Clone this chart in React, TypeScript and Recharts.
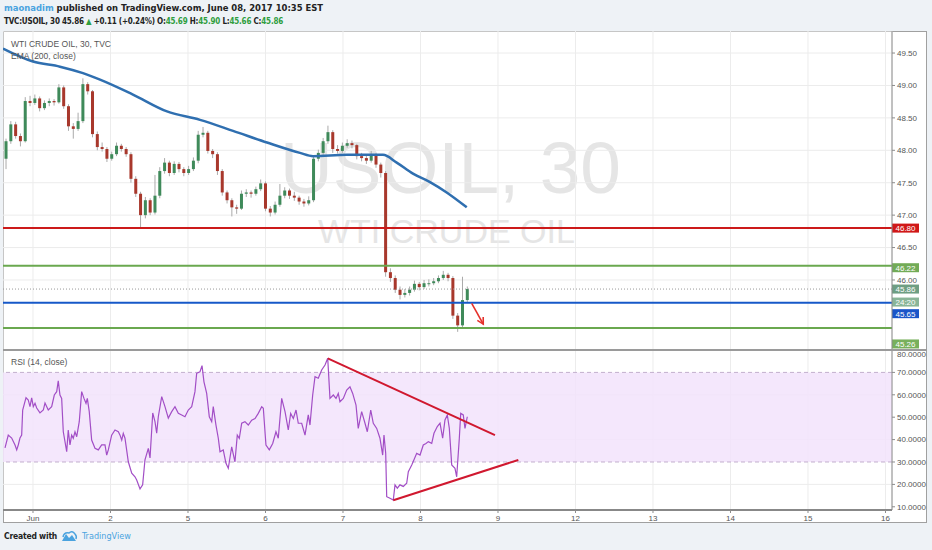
import React from "react";
import {
  ComposedChart, Bar, Line, XAxis, YAxis, CartesianGrid, ReferenceLine, ReferenceArea,
} from "recharts";

// 30 min candles, one row = [open, high, low, close]
const T0 = -0.348;
const STEP = 0.062;
const candleRows: [number, number, number, number][] = [
  [47.87, 48.18, 47.71, 48.14], [48.14, 48.45, 48.10, 48.40], [48.40, 48.44, 48.18, 48.22], [48.22, 48.26, 48.06, 48.14],
  [48.14, 48.82, 48.12, 48.76], [48.76, 48.84, 48.68, 48.73], [48.73, 48.86, 48.70, 48.80], [48.80, 48.83, 48.60, 48.65],
  [48.65, 48.77, 48.62, 48.73], [48.73, 48.80, 48.68, 48.76], [48.76, 48.79, 48.69, 48.74], [48.74, 49.02, 48.72, 48.97],
  [48.97, 49.00, 48.64, 48.68], [48.68, 48.71, 48.30, 48.37], [48.37, 48.42, 48.18, 48.33], [48.33, 48.58, 48.30, 48.45],
  [48.45, 49.11, 48.42, 49.02], [49.02, 49.05, 48.86, 48.91], [48.91, 48.93, 48.20, 48.25], [48.25, 48.29, 48.00, 48.05],
  [48.05, 48.12, 47.98, 48.02], [48.02, 48.05, 47.82, 47.87], [47.87, 47.98, 47.84, 47.94], [47.94, 48.12, 47.91, 48.07],
  [48.07, 48.10, 47.98, 48.02], [48.02, 48.05, 47.90, 47.94], [47.94, 47.97, 47.50, 47.56], [47.56, 47.60, 47.28, 47.33],
  [47.33, 47.36, 46.81, 47.00], [47.00, 47.28, 46.95, 47.23], [47.23, 47.26, 47.00, 47.04], [47.04, 47.62, 47.01, 47.30],
  [47.30, 47.74, 47.26, 47.68], [47.68, 47.88, 47.64, 47.81], [47.81, 47.84, 47.60, 47.65], [47.65, 47.83, 47.62, 47.79],
  [47.79, 47.82, 47.66, 47.71], [47.71, 47.74, 47.60, 47.65], [47.65, 47.76, 47.62, 47.71], [47.71, 47.89, 47.68, 47.84],
  [47.84, 48.30, 47.80, 48.24], [48.24, 48.36, 48.20, 48.27], [48.27, 48.30, 47.95, 47.99], [47.99, 48.02, 47.88, 47.94],
  [47.94, 47.97, 47.62, 47.68], [47.68, 47.71, 47.30, 47.35], [47.35, 47.38, 47.18, 47.23], [47.23, 47.26, 46.98, 47.12],
  [47.12, 47.16, 47.02, 47.10], [47.10, 47.38, 47.08, 47.33], [47.33, 47.40, 47.28, 47.35], [47.35, 47.38, 47.27, 47.33],
  [47.33, 47.44, 47.30, 47.40], [47.40, 47.55, 47.37, 47.49], [47.49, 47.52, 47.06, 47.10], [47.10, 47.14, 46.98, 47.04],
  [47.04, 47.21, 47.01, 47.16], [47.16, 47.48, 47.13, 47.30], [47.30, 47.43, 47.26, 47.38], [47.38, 47.41, 47.25, 47.30],
  [47.30, 47.36, 47.22, 47.27], [47.27, 47.30, 47.16, 47.21], [47.21, 47.25, 47.13, 47.18], [47.18, 47.29, 47.15, 47.23],
  [47.23, 47.92, 47.20, 47.87], [47.87, 48.01, 47.83, 47.96], [47.96, 48.19, 47.93, 48.14], [48.14, 48.38, 48.10, 48.28],
  [48.28, 48.31, 47.96, 48.02], [48.02, 48.08, 47.95, 47.99], [47.99, 48.12, 47.96, 48.07], [48.07, 48.17, 48.04, 48.11],
  [48.11, 48.15, 48.03, 48.08], [48.08, 48.10, 47.86, 47.91], [47.91, 47.96, 47.83, 47.88], [47.88, 47.92, 47.79, 47.84],
  [47.84, 47.99, 47.81, 47.93], [47.93, 47.96, 47.73, 47.78], [47.78, 47.81, 47.58, 47.65], [47.65, 47.68, 46.05, 46.12],
  [46.12, 46.18, 45.97, 46.03], [46.03, 46.07, 45.80, 45.85], [45.85, 45.90, 45.70, 45.77], [45.77, 45.86, 45.73, 45.80],
  [45.80, 45.90, 45.76, 45.85], [45.85, 45.99, 45.82, 45.94], [45.94, 45.97, 45.84, 45.89], [45.89, 46.00, 45.86, 45.95],
  [45.95, 46.01, 45.90, 45.95], [45.95, 46.03, 45.92, 45.98], [45.98, 46.07, 45.95, 46.03], [46.03, 46.14, 46.00, 46.08],
  [46.08, 46.11, 45.98, 46.03], [46.03, 46.06, 45.40, 45.45], [45.45, 45.49, 45.20, 45.30], [45.30, 46.05, 45.26, 45.69],
  [45.69, 45.90, 45.66, 45.86],
];

// EMA(200): [day, value]
const emaRows: [number, number][] = [
  [-0.387, 49.57], [0.0, 49.37], [0.348, 49.29], [0.645, 49.19], [0.865, 49.09], [1.29, 48.86],
  [1.729, 48.6], [2.155, 48.47], [2.581, 48.3], [3.019, 48.12], [3.445, 47.96], [3.613, 47.91],
  [4.052, 47.93], [4.516, 47.93], [4.693, 47.81], [4.903, 47.64], [5.123, 47.51], [5.338, 47.35], [5.597, 47.12],
];

// RSI(14): [day, value]
const rsiRows: [number, number][] = [
  [-0.361, 36.3], [-0.319, 42], [-0.275, 40.7], [-0.232, 37.6], [-0.21, 35.4], [-0.19, 37.6], [-0.168, 40.7], [-0.146, 42],
  [-0.133, 53.2], [-0.09, 58.7], [-0.061, 57.7], [-0.039, 54.7], [-0.017, 58.6], [0.004, 54.7], [0.026, 56.2], [0.048, 54.1],
  [0.09, 51.9], [0.133, 53.2], [0.155, 56.3], [0.197, 53.2], [0.241, 54.7], [0.275, 59.9], [0.306, 61.4], [0.326, 66.2],
  [0.348, 59.9], [0.37, 58.4], [0.391, 43.5], [0.435, 34.6], [0.455, 44.3], [0.477, 37.6], [0.499, 42], [0.52, 40.6],
  [0.542, 43.5], [0.564, 41.3], [0.597, 48], [0.628, 61.4], [0.658, 58.4], [0.684, 56.2], [0.701, 58.4], [0.726, 52.5],
  [0.757, 39.8], [0.8, 36.1], [0.843, 35.4], [0.886, 37.6], [0.929, 37.6], [0.951, 33.1], [0.972, 35.4], [1.015, 42],
  [1.058, 44.3], [1.101, 43.5], [1.123, 42], [1.145, 39.8], [1.165, 42.8], [1.187, 40.6], [1.23, 30.1], [1.274, 25],
  [1.316, 23.4], [1.338, 22], [1.381, 18], [1.415, 19.8], [1.445, 31], [1.488, 36.1], [1.51, 31.8], [1.545, 51.9],
  [1.574, 48], [1.596, 42.9], [1.617, 50.2], [1.661, 59.2], [1.703, 54.7], [1.746, 49.6], [1.79, 52.5], [1.832, 54.7],
  [1.875, 51.7], [1.919, 51], [1.961, 50.2], [2.004, 53.2], [2.048, 54.7], [2.09, 61.4], [2.112, 69.6], [2.155, 70.3],
  [2.181, 73], [2.206, 65.8], [2.241, 60.6], [2.275, 50.2], [2.306, 48], [2.326, 54.7], [2.361, 46.5], [2.391, 40.6],
  [2.413, 34.6], [2.455, 35.4], [2.49, 29.4], [2.52, 27.2], [2.564, 36.8], [2.606, 30.1], [2.636, 42], [2.662, 40.6],
  [2.693, 47.3], [2.735, 48], [2.778, 46.5], [2.822, 48.7], [2.865, 49.4], [2.907, 51.7], [2.951, 54.7], [2.972, 54],
  [3.006, 37.6], [3.049, 35.4], [3.093, 38.3], [3.135, 43.5], [3.165, 40.6], [3.209, 58.4], [3.252, 52.5], [3.294, 44.3],
  [3.325, 51.7], [3.359, 49.4], [3.394, 53.2], [3.423, 47.3], [3.467, 47.3], [3.51, 42], [3.552, 51], [3.574, 46.5],
  [3.609, 59.9], [3.639, 68.1], [3.681, 67.4], [3.725, 71.1], [3.768, 73.3], [3.803, 76.3], [3.832, 58.4], [3.875, 59.9],
  [3.91, 58.4], [3.939, 60.6], [3.961, 56.9], [4.004, 58.4], [4.048, 62.1], [4.09, 63.6], [4.125, 60.6], [4.168, 55.4],
  [4.197, 45], [4.241, 52.5], [4.284, 47.3], [4.314, 43.5], [4.358, 53.2], [4.391, 47.3], [4.435, 45], [4.477, 40.6],
  [4.512, 33.1], [4.529, 42], [4.551, 33.9], [4.564, 14.5], [4.606, 13.8], [4.649, 13], [4.671, 19.8], [4.701, 18.3],
  [4.735, 19.8], [4.778, 19.1], [4.822, 20.5], [4.843, 25.7], [4.887, 28.7], [4.916, 31], [4.951, 33.9], [4.994, 33.1],
  [5.036, 37.6], [5.071, 38.3], [5.101, 39.1], [5.145, 38.3], [5.174, 42.8], [5.217, 45.8], [5.252, 47.3], [5.286, 40.6],
  [5.316, 48.8], [5.346, 51], [5.372, 45], [5.403, 28.7], [5.445, 27.2], [5.467, 23.4], [5.501, 40.6], [5.519, 51.7],
  [5.552, 51], [5.574, 45], [5.604, 50.2],
];

const dayTicks = [0, 1, 2, 3, 4, 5, 6, 7, 8, 9, 10, 11];
const dayLabels = ["Jun", "2", "5", "6", "7", "8", "9", "12", "13", "14", "15", "16"];
const priceTicks = [46, 46.5, 47, 47.5, 48, 48.5, 49, 49.5];
const rsiTicks = [10, 20, 30, 40, 50, 60, 70, 80];

// drawn levels: resistance, upper support, last price, bid line, lower support
const levels = [46.8, 46.22, 45.86, 45.65, 45.26];
const countdown = "24:20";
const arrowPts = [{ t: 5.661, p: 45.64 }, { t: 5.81, p: 45.32 }];
const rsiUpper = [{ t: 3.803, v: 76.3 }, { t: 5.961, v: 42.0 }];
const rsiLower = [{ t: 4.649, v: 12.9 }, { t: 6.262, v: 30.9 }];

const candles = candleRows.map(([o, h, l, c], i) => ({ t: T0 + i * STEP, o, h, l, c, range: [l, h] }));
const ema = emaRows.map(([t, v]) => ({ t, v }));
const rsi = rsiRows.map(([t, v]) => ({ t, v }));

const X_DOMAIN: [number, number] = [-0.387, 11.084];
const UP = "#3f8a5a";
const DOWN = "#a8382c";
const GRID = "#ececec";
const AXIS = "#8c8c8c";
const TXT = "#555";
const FONT = "'Liberation Sans', Arial, sans-serif";
const NARROW = "'Liberation Sans Narrow', 'DejaVu Sans Condensed', 'Liberation Sans', sans-serif";

function Candle(props: any) {
  const { x, y, width, height, payload } = props;
  if (!payload) return null;
  const { o, h, l, c } = payload;
  const top = Math.min(y, y + height);
  const span = Math.abs(height);
  const k = h > l ? span / (h - l) : 0;
  const cx = x + width / 2;
  const yOf = (v: number) => top + (h - v) * k;
  const b1 = yOf(Math.max(o, c));
  const b2 = yOf(Math.min(o, c));
  return (
    <g>
      <line x1={cx} x2={cx} y1={top} y2={top + span} stroke="#aaaaaa" strokeWidth={1} />
      <rect x={cx - 1.5} y={b1} width={3} height={Math.max(1, b2 - b1)} fill={c >= o ? UP : DOWN} />
    </g>
  );
}

function Arrow(props: any) {
  const { x1, y1, x2, y2 } = props;
  const a = Math.atan2(y2 - y1, x2 - x1);
  const L = 7;
  const h1 = [x2 - L * Math.cos(a - 0.5), y2 - L * Math.sin(a - 0.5)];
  const h2 = [x2 - L * Math.cos(a + 0.5), y2 - L * Math.sin(a + 0.5)];
  return (
    <g stroke="#e5312b" strokeWidth={1.6} fill="none">
      <line x1={x1} y1={y1} x2={x2} y2={y2} />
      <polyline points={`${h1[0]},${h1[1]} ${x2},${y2} ${h2[0]},${h2[1]}`} />
    </g>
  );
}

function tag(text: string, fill: string, dy = 0, extra?: { text: string; fill: string; dy: number }) {
  return (p: any) => {
    const vb = p.viewBox || {};
    const x = (vb.x || 0) + (vb.width || 0);
    const y = vb.y || 0;
    const box = (t: string, f: string, d: number) => (
      <g key={t}>
        <rect x={x} y={y + d - 4.5} width={27} height={9} fill={f} />
        <text x={x + 13.5} y={y + d + 3} textAnchor="middle" fontSize={8} fill="#fff" fontFamily={FONT}>{t}</text>
      </g>
    );
    return (
      <g>
        {box(text, fill, dy)}
        {extra ? box(extra.text, extra.fill, extra.dy) : null}
      </g>
    );
  };
}

const paneLabel: React.CSSProperties = {
  position: "absolute", left: 11, fontSize: 8.5, color: TXT, fontFamily: FONT, lineHeight: "10px", whiteSpace: "nowrap",
};

export default function App() {
  const green = { color: "#2f9e3f" };
  return (
    <div style={{ position: "absolute", left: 0, top: 0, width: 932, height: 550, background: "#eef2f6", overflow: "hidden" }}>
      <div style={{ position: "absolute", left: 4, top: 2, fontFamily: NARROW, fontWeight: 700, fontSize: 9.4, color: "#222", whiteSpace: "nowrap" }}>
        <span style={{ color: "#4aa3df" }}>maonadim</span> published on TradingView.com, June 08, 2017 10:35 EST
      </div>
      <div style={{ position: "absolute", left: 4, top: 17, fontFamily: NARROW, fontWeight: 700, fontSize: 8, letterSpacing: -0.2, color: "#222", whiteSpace: "nowrap" }}>
        TVC:USOIL, 30 45.86 <span style={green}>▲</span> +0.11 (+0.24%) O:<span style={green}>45.69</span> H:<span style={green}>45.90</span> L:<span style={green}>45.66</span> C:<span style={green}>45.86</span>
      </div>

      <div style={{ position: "absolute", left: 3, top: 31, width: 924, height: 492, background: "#fff", border: "1px solid #a0a0a0", boxSizing: "border-box" }} />
      <svg style={{ position: "absolute", left: 0, top: 0 }} width={932} height={550}>
        <text x={280} y={193} fontSize={73} fill="#e5e5e5" fontFamily={FONT}>USOIL, 30</text>
        <text x={318} y={243} fontSize={34} fill="#e5e5e5" fontFamily={FONT}>WTI CRUDE OIL</text>
      </svg>

      <div style={{ position: "absolute", left: 3, top: 31 }}>
        <ComposedChart width={924} height={319} data={candles} margin={{ top: 0, right: 0, left: 0, bottom: 0 }}>
          <CartesianGrid stroke={GRID} />
          <XAxis dataKey="t" type="number" domain={X_DOMAIN} ticks={dayTicks} allowDataOverflow hide />
          <YAxis
            orientation="right" width={35} domain={[44.92, 49.84]} ticks={priceTicks} allowDataOverflow
            tickFormatter={(v: number) => v.toFixed(2)} tick={{ fontSize: 8, fill: TXT, fontFamily: FONT }}
            tickSize={3} tickLine={{ stroke: AXIS }} axisLine={{ stroke: AXIS }}
          />
          <ReferenceLine y={levels[0]} stroke="#cc1a1a" strokeWidth={2} label={tag("46.80", "#d01818")} />
          <ReferenceLine y={levels[1]} stroke="#6aa84f" strokeWidth={2} label={tag("46.22", "#72ab57", 2)} />
          <ReferenceLine
            y={levels[2]} stroke="#9a9a9a" strokeDasharray="1 2"
            label={tag("45.86", "#6e9e83", 0, { text: countdown, fill: "#8ab598", dy: 13 })}
          />
          <ReferenceLine y={levels[3]} stroke="#1658c8" strokeWidth={2} label={tag("45.65", "#1a55c8", 11)} />
          <ReferenceLine y={levels[4]} stroke="#6aa84f" strokeWidth={2} label={tag("45.26", "#78b05c", 16)} />
          <Line data={ema} dataKey="v" type="monotone" stroke="#2f6fb0" strokeWidth={2.5} dot={false} isAnimationActive={false} />
          <Bar dataKey="range" barSize={3} shape={<Candle />} isAnimationActive={false} />
          <ReferenceLine segment={[{ x: arrowPts[0].t, y: arrowPts[0].p }, { x: arrowPts[1].t, y: arrowPts[1].p }]} shape={Arrow} />
        </ComposedChart>
      </div>
      <div style={{ ...paneLabel, top: 39 }}>WTI CRUDE OIL, 30, TVC</div>
      <div style={{ ...paneLabel, top: 51 }}>EMA (200, close)</div>

      <div style={{ position: "absolute", left: 3, top: 350 }}>
        <ComposedChart width={924} height={174} data={rsi} margin={{ top: 0, right: 0, left: 0, bottom: 0 }}>
          <CartesianGrid stroke={GRID} />
          <ReferenceArea y1={30} y2={70} fill="#f2e3fb" fillOpacity={0.85} stroke="none" />
          <XAxis
            dataKey="t" type="number" domain={X_DOMAIN} ticks={dayTicks} allowDataOverflow height={14}
            tickFormatter={(v: number) => dayLabels[v] ?? ""} tick={{ fontSize: 8, fill: TXT, fontFamily: FONT }}
            tickSize={3} tickLine={{ stroke: AXIS }} axisLine={{ stroke: "#888", strokeWidth: 2 }}
          />
          <YAxis
            orientation="right" width={35} domain={[8.57, 80]} ticks={rsiTicks} allowDataOverflow
            tickFormatter={(v: number) => v.toFixed(4)} tick={{ fontSize: 8, fill: TXT, fontFamily: FONT }}
            tickSize={3} tickLine={{ stroke: AXIS }} axisLine={{ stroke: AXIS }}
          />
          <ReferenceLine y={70} stroke="#c2afcd" strokeDasharray="4 3" />
          <ReferenceLine y={30} stroke="#c2afcd" strokeDasharray="4 3" />
          <Line dataKey="v" type="linear" stroke="#a24ec6" strokeWidth={1.2} dot={false} isAnimationActive={false} />
          <ReferenceLine segment={[{ x: rsiUpper[0].t, y: rsiUpper[0].v }, { x: rsiUpper[1].t, y: rsiUpper[1].v }]} stroke="#d0182f" strokeWidth={2} />
          <ReferenceLine segment={[{ x: rsiLower[0].t, y: rsiLower[0].v }, { x: rsiLower[1].t, y: rsiLower[1].v }]} stroke="#d0182f" strokeWidth={2} />
        </ComposedChart>
      </div>
      <div style={{ position: "absolute", left: 3, top: 349, width: 924, height: 2, background: "#9a9a9a" }} />
      <div style={{ ...paneLabel, top: 357 }}>RSI (14, close)</div>

      <div style={{ position: "absolute", left: 4, top: 531, fontFamily: NARROW, fontWeight: 700, fontSize: 8.5, letterSpacing: -0.2, color: "#222", whiteSpace: "nowrap" }}>
        Created with
      </div>
      <svg style={{ position: "absolute", left: 60, top: 530 }} width={18} height={13}>
        <path d="M2 11 L6 4 L9 8 L12 5 L16 11 Z" fill="#4aa3df" />
        <path d="M3 7 Q4 2 9 3 Q12 0 15 4 Q17 6 16 9" fill="none" stroke="#4aa3df" strokeWidth={1.5} />
      </svg>
      <div style={{ position: "absolute", left: 82, top: 531, fontFamily: NARROW, fontSize: 9, color: "#4aa3df", whiteSpace: "nowrap" }}>
        TradingView
      </div>
    </div>
  );
}
